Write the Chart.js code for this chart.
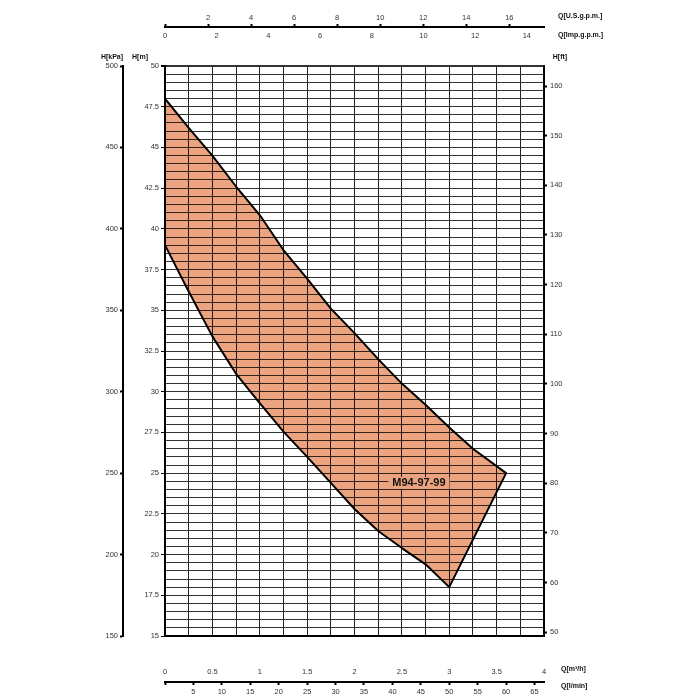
<!DOCTYPE html>
<html>
<head>
<meta charset="utf-8">
<script src="https://cdn.jsdelivr.net/npm/chart.js@4.4.0/dist/chart.umd.min.js"></script>
<style>
  body { margin: 0; background: #fff; }
  #wrap { width: 700px; height: 700px; }
</style>
</head>
<body>
<div id="wrap"><canvas id="pumpChart"></canvas></div>
<script>
// pump range M94-97-99, Q in m3/h, H in m
const qUpper = [0, 0.25, 0.5, 0.75, 1.0, 1.25, 1.5, 1.75, 2.0, 2.25, 2.5, 2.75, 3.0, 3.25, 3.6];
const hUpper = [48, 46.2, 44.5, 42.6, 40.85, 38.7, 36.95, 35.1, 33.6, 32.0, 30.5, 29.2, 27.8, 26.5, 25.0];
const qLower = [0, 0.25, 0.5, 0.75, 1.0, 1.25, 1.5, 1.75, 2.0, 2.25, 2.5, 2.75, 3.0];
const hLower = [39, 36.15, 33.4, 31.1, 29.3, 27.55, 26.0, 24.4, 22.8, 21.45, 20.4, 19.4, 18.0];

const rangeName = 'M94-97-99';
const labelQ = 2.68;
const labelH = 24.4;

// unit conversions used by the extra axes
const M3H_TO_USGPM = 4.402868;
const M3H_TO_IMPGPM = 3.666154;
const M3H_TO_LMIN = 1000 / 60;
const M_TO_KPA = 10;
const M_TO_FT = 3.28084;

const qMin = 0, qMax = 4;
const hMin = 15, hMax = 50;

const fillColor = 'rgb(236,163,128)';

// closed outline: along the top curve, then back along the bottom curve
const outline = [];
for (let i = 0; i < qUpper.length; i++) outline.push({x: qUpper[i], y: hUpper[i]});
for (let i = qLower.length - 1; i >= 0; i--) outline.push({x: qLower[i], y: hLower[i]});
outline.push({x: qUpper[0], y: hUpper[0]});

function isMultiple(v, step) {
  return Math.abs(v / step - Math.round(v / step)) < 1e-6;
}
function keepMultiples(step) {
  return function(scale) {
    scale.ticks = scale.ticks.filter(t => isMultiple(t.value, step));
  };
}
const plainNum = v => String(+Number(v).toFixed(2));

Chart.defaults.font.family = '"Liberation Sans", Arial, sans-serif';
Chart.defaults.font.size = 7.5;
Chart.defaults.color = '#333';

const whiteBg = {
  id: 'whiteBg',
  beforeDraw(chart) {
    const c = chart.ctx;
    c.save();
    c.fillStyle = '#fff';
    c.fillRect(0, 0, chart.width, chart.height);
    c.restore();
  }
};

// multiply so the grid stays visible through the filled range
const multiplyFill = {
  id: 'multiplyFill',
  beforeDatasetsDraw(chart) {
    chart.ctx.save();
    chart.ctx.globalCompositeOperation = 'multiply';
  },
  afterDatasetsDraw(chart) {
    chart.ctx.restore();
  }
};

const rangeLabel = {
  id: 'rangeLabel',
  afterDatasetsDraw(chart) {
    const c = chart.ctx;
    const x = chart.scales.x.getPixelForValue(labelQ);
    const y = chart.scales.y.getPixelForValue(labelH);
    c.save();
    c.font = 'bold 11px "Liberation Sans", Arial, sans-serif';
    const w = c.measureText(rangeName).width;
    c.fillStyle = fillColor;
    c.fillRect(x - w / 2 - 4, y - 6, w + 8, 12);
    c.fillStyle = '#111';
    c.textAlign = 'center';
    c.textBaseline = 'middle';
    c.fillText(rangeName, x, y);
    c.restore();
  }
};

const axisTitles = {
  id: 'axisTitles',
  afterDraw(chart) {
    const c = chart.ctx;
    const a = chart.chartArea;
    c.save();
    c.font = 'bold 7px "Liberation Sans", Arial, sans-serif';
    c.fillStyle = '#111';
    c.textBaseline = 'middle';
    c.textAlign = 'center';
    c.fillText('H[kPa]', a.left - 53, a.top - 9);
    c.fillText('H[m]', a.left - 25, a.top - 9);
    c.fillText('H[ft]', a.right + 16, a.top - 9);
    c.textAlign = 'left';
    c.fillText('Q[U.S.g.p.m.]', a.right + 14, 16);
    c.fillText('Q[Imp.g.p.m.]', a.right + 14, 35);
    c.fillText('Q[m³/h]', a.right + 17, a.bottom + 33);
    c.fillText('Q[l/min]', a.right + 17, a.bottom + 50);
    c.restore();
  }
};

const ctx = document.getElementById('pumpChart').getContext('2d');
const pumpChart = new Chart(ctx, {
  type: 'scatter',
  data: {
    datasets: [{
      data: outline,
      showLine: true,
      fill: 'shape',
      backgroundColor: fillColor,
      borderColor: '#000',
      borderWidth: 2,
      borderJoinStyle: 'round',
      pointRadius: 0,
      tension: 0,
      xAxisID: 'x',
      yAxisID: 'y'
    }]
  },
  options: {
    responsive: true,
    maintainAspectRatio: false,
    animation: false,
    layout: { padding: { left: 60, right: 116, top: 5, bottom: 4 } },
    plugins: {
      legend: { display: false },
      tooltip: { enabled: false }
    },
    scales: {
      x: {
        type: 'linear', position: 'bottom', min: qMin, max: qMax,
        ticks: { display: false, stepSize: 0.25, autoSkip: false },
        grid: { color: '#222', lineWidth: 1, drawTicks: false },
        border: { display: true, color: '#000', width: 2 },
        afterFit: s => { s.height = 0; }
      },
      xM: {
        type: 'linear', position: 'bottom', min: qMin, max: qMax,
        ticks: { stepSize: 0.5, autoSkip: false, padding: 31, maxRotation: 0, callback: plainNum },
        grid: { display: false, drawTicks: false },
        border: { display: false },
        afterFit: s => { s.height = 46; }
      },
      xL: {
        type: 'linear', position: 'bottom', min: qMin * M3H_TO_LMIN, max: qMax * M3H_TO_LMIN,
        ticks: { stepSize: 5, autoSkip: false, includeBounds: false, padding: 2, maxRotation: 0,
                 callback: v => v === 0 ? '' : plainNum(v) },
        grid: { display: true, drawOnChartArea: false, drawTicks: true, tickLength: 3, tickColor: '#000', tickWidth: 2 },
        border: { display: true, color: '#000', width: 2 },
        afterBuildTicks: keepMultiples(5),
        afterFit: s => { s.height = 14; }
      },
      y: {
        type: 'linear', position: 'left', min: hMin, max: hMax,
        ticks: { stepSize: 0.5, autoSkip: false, padding: 2,
                 callback: v => isMultiple(v, 2.5) ? plainNum(v) : '' },
        grid: {
          color: '#333',
          lineWidth: c => (c.tick && c.tick.value === hMax) ? 2 : 1,
          tickLength: 4,
          tickColor: c => (c.tick && isMultiple(c.tick.value, 2.5)) ? '#000' : 'rgba(0,0,0,0)'
        },
        border: { display: true, color: '#000', width: 2 },
        afterFit: s => { s.width = 42; }
      },
      yKpa: {
        type: 'linear', position: 'left', min: hMin * M_TO_KPA, max: hMax * M_TO_KPA,
        ticks: { stepSize: 50, autoSkip: false, padding: 2 },
        grid: { drawOnChartArea: false, tickLength: 3, tickColor: '#000', tickWidth: 2 },
        border: { display: true, color: '#000', width: 2 },
        afterFit: s => { s.width = 63; }
      },
      yFt: {
        type: 'linear', position: 'right', min: hMin * M_TO_FT, max: hMax * M_TO_FT,
        ticks: { stepSize: 10, autoSkip: false, includeBounds: false, padding: 3 },
        grid: { drawOnChartArea: false, tickLength: 3, tickColor: '#000', tickWidth: 2 },
        border: { display: true, color: '#000', width: 2 },
        afterBuildTicks: keepMultiples(10),
        afterFit: s => { s.width = 40; }
      },
      xImp: {
        type: 'linear', position: 'top', min: qMin * M3H_TO_IMPGPM, max: qMax * M3H_TO_IMPGPM,
        ticks: { stepSize: 2, autoSkip: false, includeBounds: false, padding: 26, maxRotation: 0 },
        grid: { display: false, drawTicks: false },
        border: { display: false },
        afterBuildTicks: keepMultiples(2),
        afterFit: s => { s.height = 39; }
      },
      xUS: {
        type: 'linear', position: 'top', min: qMin * M3H_TO_USGPM, max: qMax * M3H_TO_USGPM,
        ticks: { stepSize: 2, autoSkip: false, includeBounds: false, padding: 2, maxRotation: 0,
                 callback: v => v === 0 ? '' : plainNum(v) },
        grid: { drawOnChartArea: false, tickLength: 3, tickColor: '#000', tickWidth: 2 },
        border: { display: true, color: '#000', width: 2 },
        afterBuildTicks: keepMultiples(2),
        afterFit: s => { s.height = 22; }
      }
    }
  },
  plugins: [whiteBg, multiplyFill, rangeLabel, axisTitles]
});
</script>
</body>
</html>
